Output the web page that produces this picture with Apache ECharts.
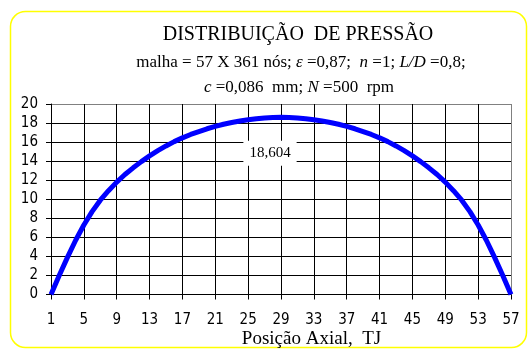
<!DOCTYPE html>
<html>
<head>
<meta charset="utf-8">
<script src="https://cdn.jsdelivr.net/npm/echarts@6/dist/echarts.min.js"></script>
<style>
  html, body { margin: 0; padding: 0; background: #ffffff; }
  #chart { width: 532px; height: 351px; }
</style>
</head>
<body>
<div id="chart"></div>
<script>
// Axial positions (nodes 1..57)
const positions = [];
for (let i = 1; i <= 57; i++) positions.push(String(i));

// Pressure at each axial node
const pressure = [
  0, 2.0, 3.9, 5.7, 7.3, 8.7, 9.9, 10.9, 11.8, 12.6,
  13.3, 13.95, 14.55, 15.1, 15.6, 16.05, 16.45, 16.8, 17.1, 17.4,
  17.65, 17.87, 18.06, 18.22, 18.35, 18.46, 18.54, 18.59, 18.604,
  18.59, 18.54, 18.46, 18.35, 18.22, 18.06, 17.87, 17.65, 17.4, 17.1,
  16.8, 16.45, 16.05, 15.6, 15.1, 14.55, 13.95, 13.3, 12.6, 11.8,
  10.9, 9.9, 8.7, 7.3, 5.7, 3.9, 2.0, 0
];

// Peak annotation
const peakIndex = 28;
const peakValue = 18.604;

const titleText = 'DISTRIBUIÇÃO  DE PRESSÃO';
const xTitle = 'Posição Axial,  TJ';

const serif = '"Liberation Serif", "Times New Roman", serif';
const sans = '"DejaVu Sans Condensed", "DejaVu Sans", Tahoma, sans-serif';

// Gridline colours: interior lines black, outer top/right border gray
const ySplitColors = ['#000', '#000', '#000', '#000', '#000', '#000', '#000', '#000', '#000', '#000', '#808080'];
const xSplitColors = ['#000', '#000', '#000', '#000', '#000', '#000', '#000', '#000', '#000', '#000', '#000', '#000', '#000', '#000', '#808080'];

const chart = echarts.init(document.getElementById('chart'), null, { renderer: 'canvas' });

chart.setOption({
  animation: false,
  backgroundColor: '#ffffff',
  grid: { left: 51, right: 21, top: 104, bottom: 56.5, containLabel: false, outerBoundsMode: 'none' },
  xAxis: {
    type: 'category',
    data: positions,
    boundaryGap: false,
    axisLine: { show: true, lineStyle: { color: '#000', width: 1 } },
    axisTick: { show: true, interval: 3, length: 5, lineStyle: { color: '#000' } },
    axisLabel: { interval: 3, margin: 18, fontFamily: sans, fontSize: 15, color: '#000' },
    splitLine: { show: true, interval: 3, lineStyle: { color: xSplitColors, width: 1 } }
  },
  yAxis: {
    type: 'value',
    min: 0,
    max: 20,
    interval: 2,
    axisLine: { show: true, lineStyle: { color: '#000', width: 1 } },
    axisTick: { show: true, length: 5, lineStyle: { color: '#000' } },
    axisLabel: { margin: 13, fontFamily: sans, fontSize: 15, color: '#000' },
    splitLine: { show: true, lineStyle: { color: ySplitColors, width: 1 } }
  },
  series: [{
    type: 'line',
    data: pressure,
    showSymbol: false,
    symbol: 'none',
    lineStyle: { color: '#0000ff', width: 5 },
    z: 3,
    markPoint: {
      symbol: 'rect',
      symbolSize: 0,
      data: [{ coord: [peakIndex, peakValue], value: peakValue }],
      label: {
        show: true,
        position: 'inside',
        offset: [-11, 36],
        formatter: p => String(p.value).replace('.', ','),
        fontFamily: serif,
        fontSize: 15,
        color: '#000',
        backgroundColor: '#ffffff',
        padding: [5, 6, 5, 6]
      }
    }
  }],
  graphic: [
    {
      type: 'rect',
      z: -10,
      silent: true,
      shape: { x: 10.5, y: 11.5, width: 516, height: 336, r: 15 },
      style: { fill: 'none', stroke: '#ffff00', lineWidth: 1.5 }
    },
    {
      type: 'text',
      x: 298, y: 35,
      style: {
        text: titleText,
        fontFamily: serif,
        fontSize: 20,
        fill: '#000',
        textAlign: 'center',
        textVerticalAlign: 'middle'
      }
    },
    {
      type: 'text',
      x: 301, y: 63,
      style: {
        text: '{r|malha = 57 X 361 nós; }{i|ε}{r| =0,87;  }{i|n}{r| =1; }{i|L/D}{r| =0,8;}',
        textAlign: 'center',
        textVerticalAlign: 'middle',
        rich: {
          r: { fontFamily: serif, fontSize: 17, color: '#000' },
          i: { fontFamily: serif, fontSize: 17, fontStyle: 'italic', color: '#000' }
        }
      }
    },
    {
      type: 'text',
      x: 299, y: 88,
      style: {
        text: '{i|c}{r| =0,086  mm; }{i|N}{r| =500  rpm}',
        textAlign: 'center',
        textVerticalAlign: 'middle',
        rich: {
          r: { fontFamily: serif, fontSize: 17, color: '#000' },
          i: { fontFamily: serif, fontSize: 17, fontStyle: 'italic', color: '#000' }
        }
      }
    },
    {
      type: 'text',
      x: 311.5, y: 339,
      style: {
        text: xTitle,
        fontFamily: serif,
        fontSize: 19,
        fill: '#000',
        textAlign: 'center',
        textVerticalAlign: 'middle'
      }
    }
  ]
});
</script>
</body>
</html>
